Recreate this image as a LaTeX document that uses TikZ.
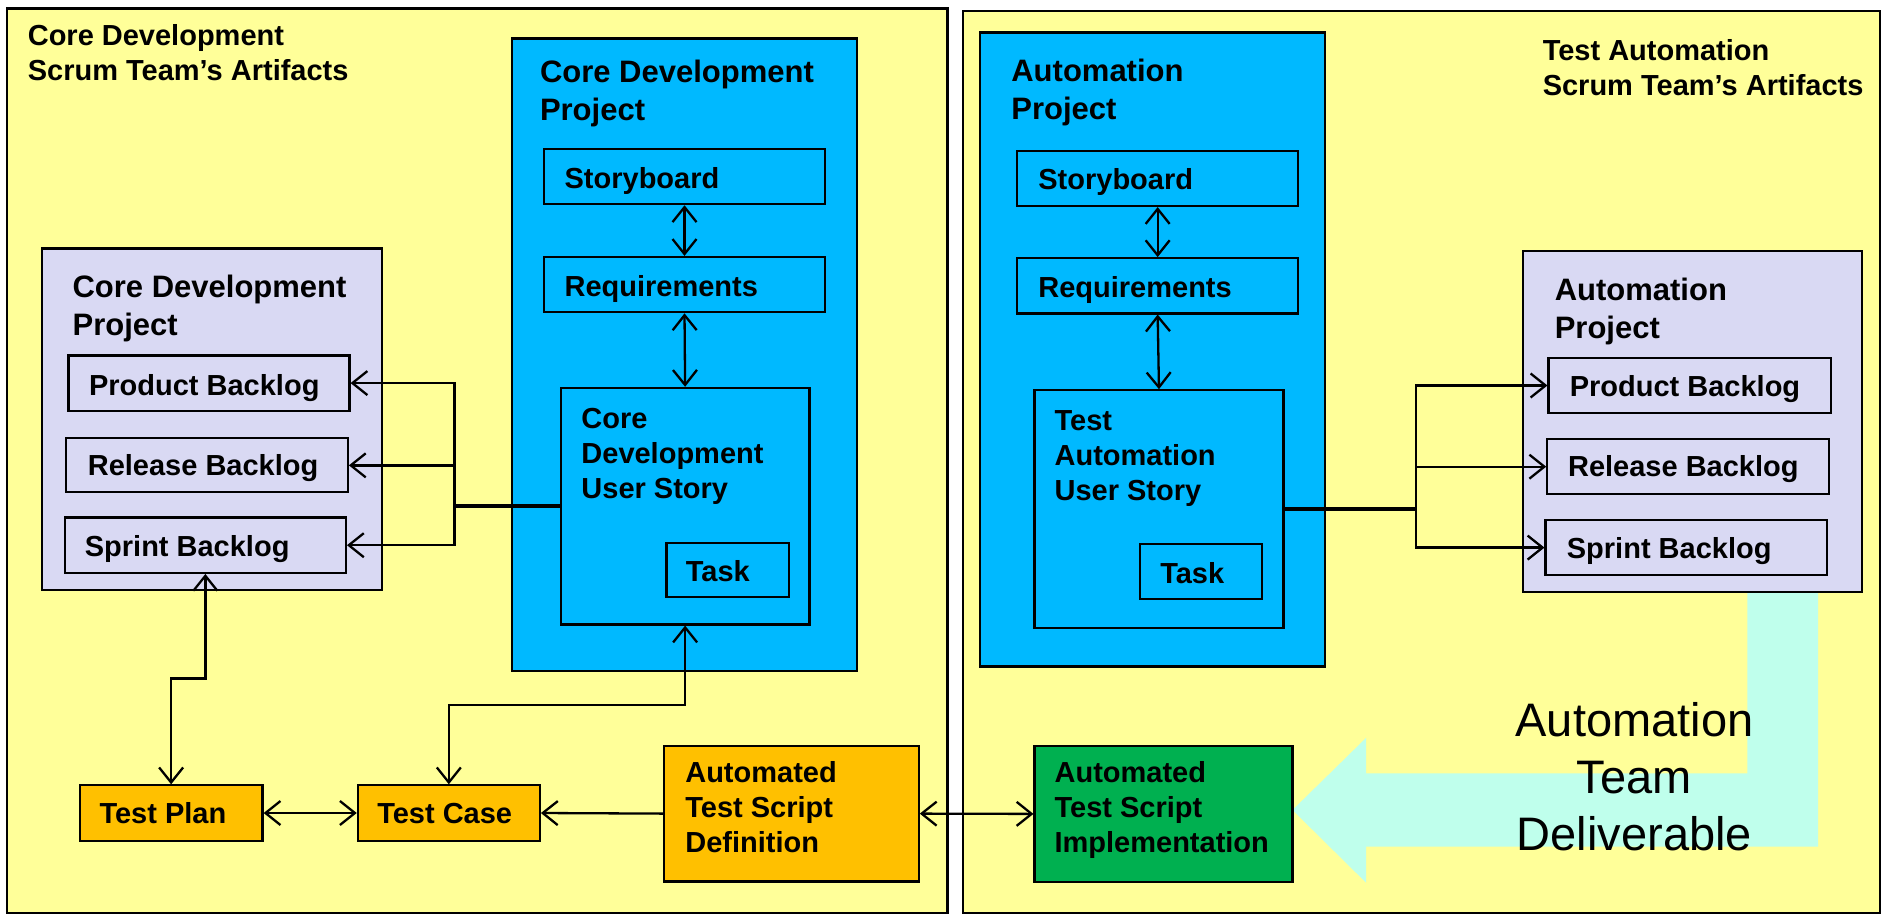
\documentclass[tikz,border=0pt]{standalone}
\usepackage{fontspec}
\setmainfont{Liberation Sans}
\usetikzlibrary{arrows.meta,fit,calc}
\definecolor{ylw}{RGB}{255,255,153}
\definecolor{bl}{RGB}{0,185,255}
\definecolor{lv}{RGB}{217,217,243}
\definecolor{org}{RGB}{255,192,0}
\definecolor{grn}{RGB}{0,176,80}
\definecolor{cyn}{RGB}{191,255,236}
\newcommand\mlines[1]{\begin{tabular}[t]{@{}l@{}}#1\end{tabular}}
\newcommand\clines[1]{\begin{tabular}[t]{@{}c@{}}#1\end{tabular}}
\tikzset{
  panel/.style={draw=black, line width=2.2pt, fill=ylw, inner sep=0pt},
  blu/.style={draw=black, line width=2.2pt, fill=bl, inner sep=0pt},
  lav/.style={draw=black, line width=2.2pt, fill=lv, inner sep=0pt},
  orgbox/.style={draw=black, line width=2.2pt, fill=org, inner sep=0pt},
  grnbox/.style={draw=black, line width=2.2pt, fill=grn, inner sep=0pt},
  txt/.style={anchor=base west, inner sep=0pt, font=\fontsize{29}{35}\selectfont\bfseries},
  ttl/.style={anchor=base west, inner sep=0pt, font=\fontsize{31}{38}\selectfont\bfseries},
  con/.style={line width=2.3pt},
  thickcon/.style={line width=3.5pt},
  arr/.style={con, -{Straight Barb[length=15pt,width=24pt]}},
  darr/.style={con, {Straight Barb[length=15pt,width=24pt]}-{Straight Barb[length=15pt,width=24pt]}},
}
\begin{document}
\begin{tikzpicture}[x=1.2009pt,y=-1.2009pt]
\useasboundingbox (0,0) rectangle (1568,761);
\fill[white] (0,0) rectangle (1568,761);
% panels
\node[panel, fit={(6,7) (789,760)}] (lpanel) {};
\node[panel, fit={(802,9) (1565.5,760)}] (rpanel) {};
% cyan deliverable arrow
\fill[cyn] (1455,491) -- (1514,491) -- (1514,705) -- (1137.5,705) -- (1137.5,735)
  -- (1076.3,674.5) -- (1137.5,614.5) -- (1137.5,644) -- (1455,644) -- cycle;
% left blue project
\node[blu, fit={(426.5,32) (713.5,559)}] (cdp) {};
\node[blu, fit={(453,124) (687,170)}] (sbL) {};
\node[blu, fit={(453,214) (687,260)}] (reqL) {};
\node[blu, fit={(467,323) (674,520)}] (usL) {};
\node[blu, fit={(555,452) (657,497)}] (taskL) {};
% right blue project
\node[blu, fit={(816,27) (1103,555)}] (ap) {};
\node[blu, fit={(847,126) (1081,171.5)}] (sbR) {};
\node[blu, fit={(847,215) (1081,261)}] (reqR) {};
\node[blu, fit={(861.5,325) (1068.7,523)}] (usR) {};
\node[blu, fit={(949.3,453) (1051.2,499)}] (taskR) {};
% left lavender
\node[lav, fit={(35,207) (318,491)}] (lavL) {};
\node[lav, fit={(57,296) (291,342)}] (pbL) {};
\node[lav, fit={(55,365) (289.6,410)}] (rbL) {};
\node[lav, fit={(54,431) (288,477)}] (sbkL) {};
% right lavender
\node[lav, fit={(1268,209) (1550.5,493)}] (lavR) {};
\node[lav, fit={(1289.5,298) (1524.4,344)}] (pbR) {};
\node[lav, fit={(1288.5,365.7) (1523,411.5)}] (rbR) {};
\node[lav, fit={(1287,433) (1521.3,479)}] (sbkR) {};
% bottom boxes
\node[orgbox, fit={(66.4,654) (218.6,700)}] (tp) {};
\node[orgbox, fit={(298,654) (449.5,700)}] (tc) {};
\node[orgbox, fit={(553,621) (765,734)}] (atsd) {};
\node[grnbox, fit={(861.5,621) (1076.3,734.5)}] (atsi) {};
% connectors left
\draw[darr] (sbL.south) -- (reqL.north);
\draw[darr] (reqL.south) -- (usL.north);
\coordinate (lj) at (378.5,421.5);
\draw[thickcon] (usL.west) -- (lj);
\draw[arr] (lj) |- (pbL.east);
\draw[arr] (lj) |- (rbL.east);
\draw[arr] (lj) |- (sbkL.east);
\draw[darr] (sbkL.south) -- (sbkL.south |- 0,565) -| (tp.north);
\draw[darr] (usL.south) -- (usL.south |- 0,587) -| (tc.north);
\draw[darr] (tp.east) -- (tc.west);
\draw[arr] (atsd.west) -- (tc.east);
\draw[darr] (atsd.east) -- (atsi.west);
% connectors right
\draw[darr] (sbR.south) -- (reqR.north);
\draw[darr] (reqR.south) -- (usR.north);
\coordinate (rj) at (1179,424);
\draw[thickcon] (usR.east) -- (rj);
\draw[arr] (rj) |- (pbR.west);
\draw[arr] (rj) |- (rbR.west);
\draw[arr] (rj) |- (sbkR.west);
% texts
\node[txt] (tl1) at (23,37.5) {\mlines{Core Development\\Scrum Team’s Artifacts}};
\node[txt] (tr1) at (1284.5,50) {\mlines{Test Automation\\Scrum Team’s Artifacts}};
\node[ttl] (tcdp) at (449.5,69) {\mlines{Core Development\\Project}};
\node[ttl] (tap) at (842,68) {\mlines{Automation\\Project}};
\node[ttl] (tlavL) at (60.3,248) {\mlines{Core Development\\Project}};
\node[ttl] (tlavR) at (1294.5,250) {\mlines{Automation\\Project}};
\node[txt] (tsbL) at (470,157) {Storyboard};
\node[txt] (treqL) at (470,247) {Requirements};
\node[txt] (tsbR) at (864.5,158) {Storyboard};
\node[txt] (treqR) at (864.5,248) {Requirements};
\node[txt] (tusL) at (484,356.5) {\mlines{Core\\Development\\User Story}};
\node[txt] (tusR) at (878,358.5) {\mlines{Test\\Automation\\User Story}};
\node[txt] (ttaskL) at (571,484.5) {Task};
\node[txt] (ttaskR) at (966,486) {Task};
\node[txt] (tpbL) at (74,329) {Product Backlog};
\node[txt] (trbL) at (73,396) {Release Backlog};
\node[txt] (tsbkL) at (70.5,463.5) {Sprint Backlog};
\node[txt] (tpbR) at (1307,330.5) {Product Backlog};
\node[txt] (trbR) at (1305.6,397) {Release Backlog};
\node[txt] (tsbkR) at (1304.6,465) {Sprint Backlog};
\node[txt] (ttp) at (82.7,686) {Test Plan};
\node[txt] (ttc) at (314,686) {Test Case};
\node[txt] (tatsd) at (570.5,652) {\mlines{Automated\\Test Script\\Definition}};
\node[txt] (tatsi) at (878,652) {\mlines{Automated\\Test Script\\Implementation}};
\node[anchor=base, inner sep=0pt, font=\fontsize{47}{57}\selectfont] (deliv) at (1361,613.6) {\clines{Automation\\Team\\Deliverable}};
\end{tikzpicture}
\end{document}
